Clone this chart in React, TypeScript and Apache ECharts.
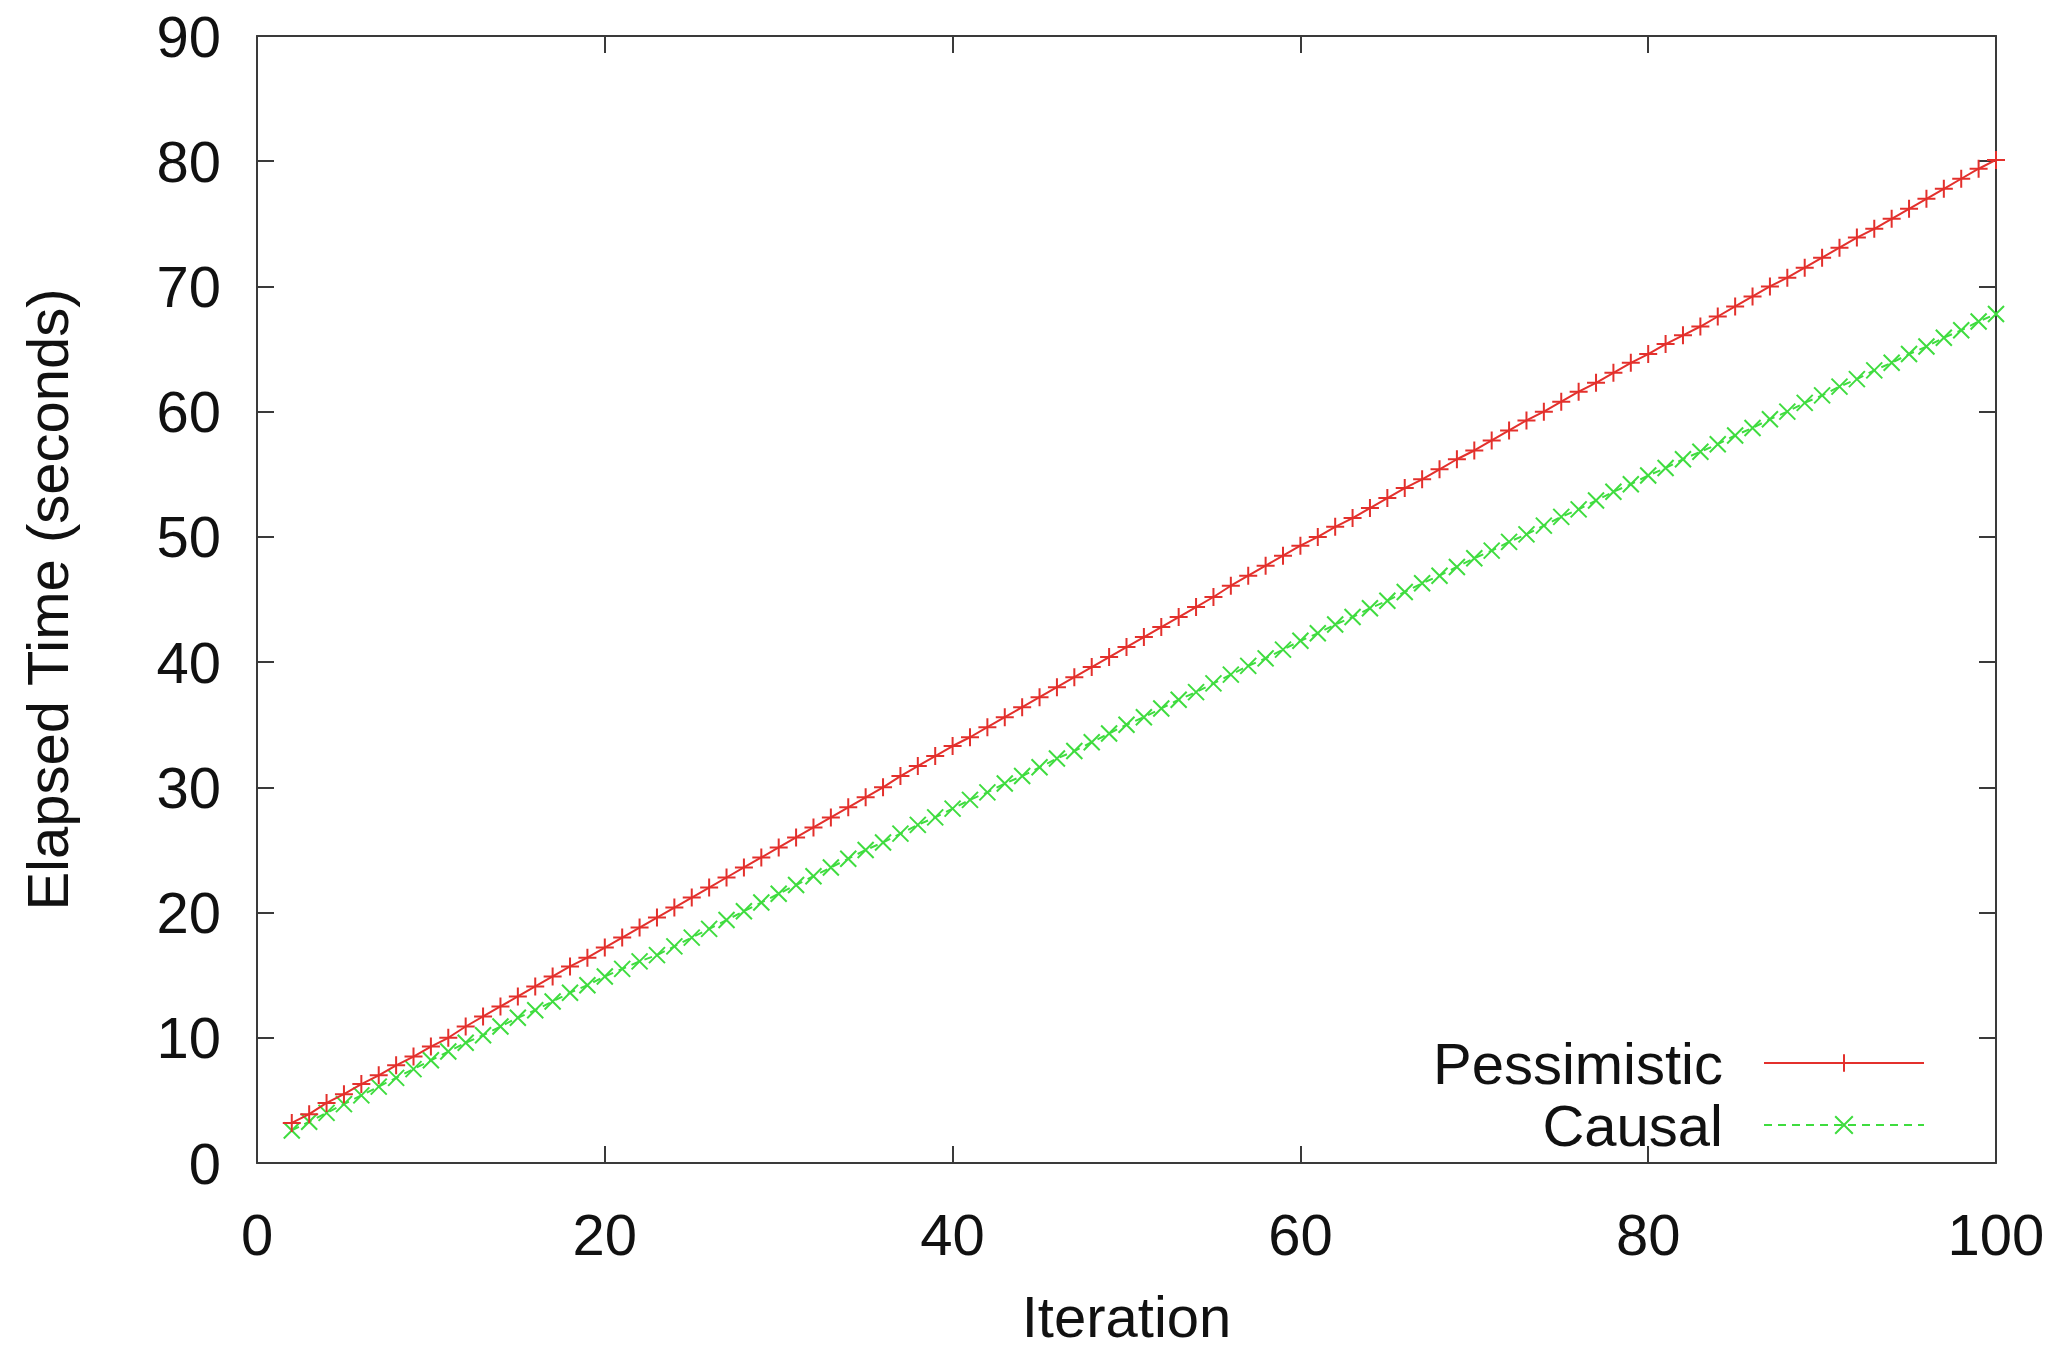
import React, { useEffect, useRef } from "react";
import * as echarts from "echarts";

const iterations: number[] = [];
for (let i = 2; i <= 100; i++) iterations.push(i);

const pessimistic: number[] = [
  3.2, 3.9, 4.8, 5.5, 6.3, 7.0, 7.8, 8.5, 9.3, 10.0,
  10.9, 11.7, 12.5, 13.3, 14.1, 14.9, 15.7, 16.4, 17.2, 18.0,
  18.8, 19.6, 20.4, 21.2, 22.0, 22.8, 23.6, 24.4, 25.2, 26.0,
  26.8, 27.6, 28.4, 29.2, 30.0, 30.9, 31.7, 32.5, 33.3, 34.0,
  34.8, 35.6, 36.4, 37.2, 38.0, 38.8, 39.6, 40.4, 41.2, 42.0,
  42.8, 43.6, 44.4, 45.2, 46.1, 46.9, 47.7, 48.5, 49.3, 50.0,
  50.8, 51.5, 52.3, 53.1, 53.9, 54.6, 55.4, 56.2, 56.9, 57.7,
  58.5, 59.3, 60.0, 60.8, 61.6, 62.3, 63.1, 63.9, 64.6, 65.4,
  66.1, 66.8, 67.6, 68.4, 69.2, 70.0, 70.7, 71.5, 72.3, 73.1,
  73.9, 74.6, 75.4, 76.2, 77.0, 77.8, 78.6, 79.4, 80.1,
];

const causal: number[] = [
  2.6, 3.3, 4.0, 4.7, 5.4, 6.1, 6.8, 7.5, 8.2, 8.9,
  9.6, 10.2, 10.9, 11.6, 12.2, 12.9, 13.6, 14.2, 14.9, 15.5,
  16.1, 16.6, 17.3, 18.0, 18.7, 19.4, 20.1, 20.8, 21.5, 22.2,
  22.9, 23.6, 24.3, 25.0, 25.6, 26.3, 27.0, 27.6, 28.3, 29.0,
  29.6, 30.3, 30.9, 31.6, 32.3, 32.9, 33.6, 34.3, 35.0, 35.6,
  36.3, 37.0, 37.6, 38.3, 39.0, 39.7, 40.3, 41.0, 41.7, 42.3,
  43.0, 43.6, 44.3, 44.9, 45.6, 46.3, 46.9, 47.6, 48.3, 48.9,
  49.6, 50.2, 50.9, 51.6, 52.2, 52.9, 53.6, 54.2, 54.9, 55.5,
  56.2, 56.8, 57.4, 58.1, 58.7, 59.4, 60.0, 60.7, 61.3, 62.0,
  62.6, 63.3, 63.9, 64.6, 65.2, 65.9, 66.5, 67.2, 67.8,
];

const seriesNames = ["Pessimistic", "Causal"];
const xTicks = { min: 0, max: 100, interval: 20 };
const yTicks = { min: 0, max: 90, interval: 10 };

const FONT = "Liberation Sans";
const FS = 58;
const RED = "#e3302c";
const GREEN = "#3fdc3f";
const AXIS = "#3a3a3a";

const PLUS = "path://M10 0 L10 20 M0 10 L20 10";
const CROSS = "path://M0 0 L20 20 M20 0 L0 20";

export default function App() {
  const ref = useRef<HTMLDivElement>(null);

  useEffect(() => {
    if (!ref.current) return;
    const chart = echarts.init(ref.current, undefined, { renderer: "svg" });

    const axisCommon = {
      axisLine: { show: true, onZero: false, lineStyle: { color: AXIS, width: 2 } },
      axisTick: { show: true, inside: true, length: 17, lineStyle: { color: AXIS, width: 2 } },
      splitLine: { show: false },
    };

    chart.setOption({
      animation: false,
      backgroundColor: "#ffffff",
      grid: { left: 257, right: 65, top: 36, bottom: 177, containLabel: false },
      legend: {
        orient: "vertical",
        right: 131,
        top: 1029,
        align: "right",
        itemWidth: 160,
        itemHeight: 22,
        itemGap: 4,
        data: seriesNames,
        textStyle: {
          fontFamily: FONT,
          fontSize: FS,
          lineHeight: FS,
          color: "#111",
          padding: [0, 36, 0, 0],
        },
      },
      xAxis: [
        {
          type: "value",
          position: "bottom",
          min: xTicks.min,
          max: xTicks.max,
          interval: xTicks.interval,
          name: "Iteration",
          nameLocation: "middle",
          nameGap: 124,
          nameTextStyle: { fontFamily: FONT, fontSize: FS, color: "#111" },
          axisLabel: { fontFamily: FONT, fontSize: FS, color: "#111", margin: 42 },
          ...axisCommon,
        },
        {
          type: "value",
          position: "top",
          min: xTicks.min,
          max: xTicks.max,
          interval: xTicks.interval,
          axisLabel: { show: false },
          ...axisCommon,
        },
      ],
      yAxis: [
        {
          type: "value",
          position: "left",
          min: yTicks.min,
          max: yTicks.max,
          interval: yTicks.interval,
          name: "Elapsed Time (seconds)",
          nameLocation: "middle",
          nameRotate: 90,
          nameGap: 181,
          nameTextStyle: { fontFamily: FONT, fontSize: FS, color: "#111" },
          axisLabel: { fontFamily: FONT, fontSize: FS, color: "#111", margin: 36 },
          ...axisCommon,
        },
        {
          type: "value",
          position: "right",
          min: yTicks.min,
          max: yTicks.max,
          interval: yTicks.interval,
          axisLabel: { show: false },
          ...axisCommon,
        },
      ],
      series: [
        {
          name: seriesNames[0],
          type: "line",
          xAxisIndex: 0,
          yAxisIndex: 0,
          data: iterations.map((x, i) => [x, pessimistic[i]]),
          symbol: PLUS,
          symbolSize: 18,
          showSymbol: true,
          lineStyle: { color: RED, width: 2, type: "solid" },
          itemStyle: { color: "rgba(0,0,0,0)", borderColor: RED, borderWidth: 2 },
          z: 3,
        },
        {
          name: seriesNames[1],
          type: "line",
          xAxisIndex: 0,
          yAxisIndex: 0,
          data: iterations.map((x, i) => [x, causal[i]]),
          symbol: CROSS,
          symbolSize: 16,
          showSymbol: true,
          lineStyle: { color: GREEN, width: 2, type: [8, 6] },
          itemStyle: { color: "rgba(0,0,0,0)", borderColor: GREEN, borderWidth: 2 },
          z: 2,
        },
      ],
    });

    return () => chart.dispose();
  }, []);

  return (
    <div
      ref={ref}
      style={{ position: "fixed", left: 0, top: 0, width: 2061, height: 1350, background: "#fff" }}
    />
  );
}
